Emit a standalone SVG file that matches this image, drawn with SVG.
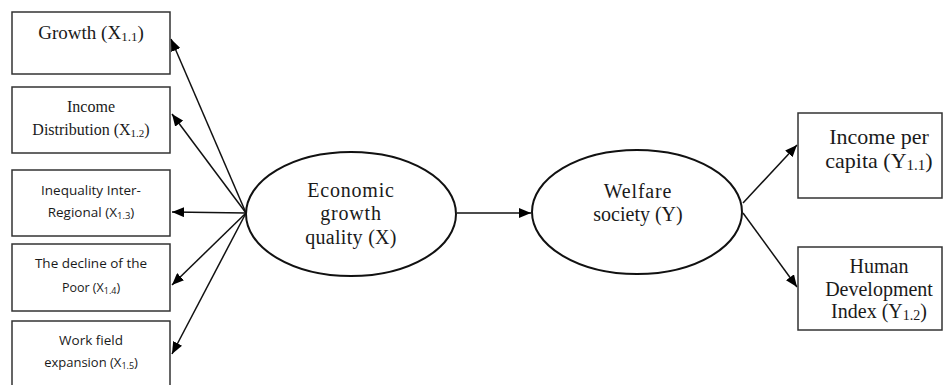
<svg xmlns="http://www.w3.org/2000/svg" width="944" height="385" viewBox="0 0 944 385">
<defs>
<marker id="ah" viewBox="0 0 12 10" refX="12" refY="5" markerWidth="12" markerHeight="10" markerUnits="userSpaceOnUse" orient="auto"><path d="M0,0 L12,5 L0,10 z" fill="#000"/></marker>
<style>
.box{fill:#fff;stroke:#333;stroke-width:1.5}
.ell{fill:#fff;stroke:#111;stroke-width:2}
.serif{font-family:"Liberation Serif","Times New Roman",serif;fill:#1a1a1a;text-anchor:middle}
.sans{font-family:"Open Sans","Liberation Sans",sans-serif;fill:#1a1a1a;text-anchor:middle}
.edge{stroke:#111;stroke-width:1.5;fill:none;marker-end:url(#ah)}
</style>
</defs>
<rect width="944" height="385" fill="#fff"/>
<g id="connectors">
<line class="edge" x1="246" y1="213" x2="171" y2="39"/>
<line class="edge" x1="246" y1="213" x2="172" y2="114"/>
<line class="edge" x1="246" y1="213" x2="172" y2="212"/>
<line class="edge" x1="246" y1="213" x2="172" y2="285"/>
<line class="edge" x1="246" y1="213" x2="172" y2="354"/>
<line class="edge" x1="457" y1="213" x2="531" y2="213"/>
<line class="edge" x1="743" y1="203" x2="797" y2="145"/>
<line class="edge" x1="743" y1="213" x2="797" y2="287"/>
</g>
<g id="x11"><rect class="box" x="12" y="12" width="158" height="62"/>
<text class="serif" x="91" y="39" font-size="19">Growth (X<tspan font-size="13" dy="2">1.1</tspan><tspan dy="-2">)</tspan></text></g>
<g id="x12"><rect class="box" x="12" y="87" width="158" height="66"/>
<text class="serif" x="91" y="112" font-size="16">Income</text>
<text class="serif" x="91" y="135" font-size="16">Distribution (X<tspan font-size="11" dy="2">1.2</tspan><tspan dy="-2">)</tspan></text></g>
<g id="x13"><rect class="box" x="12" y="170" width="158" height="66"/>
<text class="sans" x="91" y="195" font-size="13.5">Inequality Inter-</text>
<text class="sans" x="91" y="217" font-size="13.5">Regional (X<tspan font-size="9.5" dy="2">1.3</tspan><tspan dy="-2">)</tspan></text></g>
<g id="x14"><rect class="box" x="12" y="244" width="158" height="67"/>
<text class="sans" x="91" y="268" font-size="13.5">The decline of the</text>
<text class="sans" x="91" y="292" font-size="12.5">Poor (X<tspan font-size="9" dy="2">1.4</tspan><tspan dy="-2">)</tspan></text></g>
<g id="x15"><rect class="box" x="12" y="321" width="158" height="80"/>
<text class="sans" x="91" y="345" font-size="13.5">Work field</text>
<text class="sans" x="91" y="367" font-size="13">expansion (X<tspan font-size="9" dy="2">1.5</tspan><tspan dy="-2">)</tspan></text></g>
<g id="x"><ellipse class="ell" cx="351" cy="214" rx="105" ry="62"/>
<text class="serif" x="351" y="197" font-size="20" letter-spacing="0.8">Economic</text>
<text class="serif" x="351" y="220" font-size="20" letter-spacing="0.8">growth</text>
<text class="serif" x="351" y="244" font-size="20" letter-spacing="0.3">quality (X)</text></g>
<g id="y"><ellipse class="ell" cx="637" cy="212" rx="105" ry="62"/>
<text class="serif" x="638" y="198" font-size="20" letter-spacing="0.8">Welfare</text>
<text class="serif" x="638" y="221" font-size="20">society (Y)</text></g>
<g id="y11"><rect class="box" x="798" y="113" width="144" height="85"/>
<text class="serif" x="879" y="144" font-size="22">Income per</text>
<text class="serif" x="879" y="168" font-size="22">capita (Y<tspan font-size="15" dy="2">1.1</tspan><tspan dy="-2">)</tspan></text></g>
<g id="y12"><rect class="box" x="798" y="247" width="144" height="83"/>
<text class="serif" x="879" y="273" font-size="20">Human</text>
<text class="serif" x="879" y="296" font-size="20">Development</text>
<text class="serif" x="879" y="318" font-size="20">Index (Y<tspan font-size="14" dy="2">1.2</tspan><tspan dy="-2">)</tspan></text></g>
</svg>
